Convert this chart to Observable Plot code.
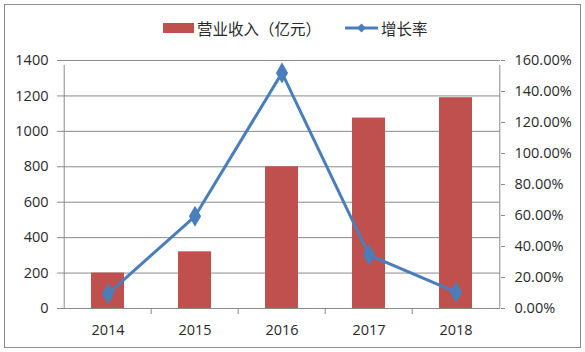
<!DOCTYPE html>
<html><head><meta charset="utf-8">
<script src="https://cdn.jsdelivr.net/npm/d3@7"></script>
<script src="https://cdn.jsdelivr.net/npm/@observablehq/plot@0.6"></script>
<style>
body{margin:0;background:#fff;}
#wrap{position:relative;width:585px;height:352px;overflow:hidden;font-family:"Open Sans",sans-serif;}
#border{position:absolute;left:4px;top:4px;width:575px;height:342px;border:1.5px solid #8c8c8c;box-sizing:content-box;}
#legend{position:absolute;top:16px;left:0;width:585px;height:24px;font-family:"Noto Sans CJK SC",sans-serif;font-size:15.5px;color:#2a2a2a;}
#legend .item{position:absolute;top:0;display:flex;align-items:center;height:24px;}
#chart{position:absolute;left:0;top:0;}
</style></head>
<body>
<div id="wrap">
  <div id="chart"></div>
  <div id="border"></div>
  <div id="legend"></div>
</div>
<script>
const years = ["2014", "2015", "2016", "2017", "2018"];
const revenue = [200, 320, 800, 1075, 1190];
const growth = [0.095, 0.595, 1.52, 0.345, 0.105];
const leftTicks = [0, 200, 400, 600, 800, 1000, 1200, 1400];
const rightTicks = [0, 0.2, 0.4, 0.6, 0.8, 1.0, 1.2, 1.4, 1.6];
const seriesNames = ["营业收入（亿元）", "增长率"];

const barColor = "#C0504D";
const lineColor = "#4A7EBB";
const W = 585, H = 352, mL = 62, mR = 85, mT = 60, mB = 44;
const yMax = 1400, gMax = 1.6;
const toY = g => g * yMax / gMax;
const step = (W - mL - mR) / years.length;

const rows = years.map((y, i) => ({year: y, rev: revenue[i], g: toY(growth[i])}));
const gridColor = "#8a8a8a";
const fs = 14.5;

const chart = Plot.plot({
  width: W, height: H,
  marginLeft: mL, marginRight: mR, marginTop: mT, marginBottom: mB,
  style: {fontFamily: "Open Sans, sans-serif", fontSize: fs + "px", color: "#2a2a2a", background: "transparent"},
  x: {domain: years, padding: 0, label: null},
  y: {domain: [0, yMax], label: null},
  marks: [
    Plot.gridY(leftTicks, {stroke: gridColor, strokeOpacity: 1, strokeWidth: 1}),
    Plot.barY(rows, {x: "year", y: "rev", fill: barColor, insetLeft: 27, insetRight: 27}),
    Plot.ruleY([0], {stroke: gridColor, strokeWidth: 1}),
    // left and right axis lines
    Plot.ruleX([years[0]], {x: d => d, dx: -step / 2, y1: 0, y2: yMax, insetBottom: -5, stroke: gridColor}),
    Plot.ruleX([years[years.length - 1]], {x: d => d, dx: step / 2, y1: 0, y2: yMax, insetBottom: -5, stroke: gridColor}),
    // category boundary ticks
    Plot.ruleX(years.slice(1), {x: d => d, dx: -step / 2, y1: 0, y2: 0, insetBottom: -6, stroke: gridColor}),
    Plot.lineY(rows, {x: "year", y: "g", stroke: lineColor, strokeWidth: 3}),
    Plot.dot(rows, {x: "year", y: "g", symbol: "diamond", r: 5.5, fill: lineColor, stroke: lineColor}),
    Plot.axisX({tickSize: 0, tickPadding: 16, fontSize: fs}),
    Plot.axisY({anchor: "left", ticks: leftTicks, tickSize: 5, tickPadding: 9, stroke: gridColor,
      tickFormat: d => String(d), fontSize: fs}),
    Plot.axisY({anchor: "right", ticks: rightTicks.map(toY), tickSize: 4, tickPadding: 10, stroke: gridColor,
      tickFormat: d => (d / yMax * gMax * 100).toFixed(2) + "%", fontSize: fs})
  ]
});
chart.querySelectorAll("text").forEach(t => t.setAttribute("fill", "#2a2a2a"));
document.getElementById("chart").appendChild(chart);

// legend
const legend = document.getElementById("legend");
const it1 = document.createElement("div");
it1.className = "item"; it1.style.left = "163px";
it1.innerHTML = `<svg width="31" height="12" style="margin-right:3px"><rect x="0" y="1" width="31" height="10" fill="${barColor}"/></svg><span>${seriesNames[0]}</span>`;
const it2 = document.createElement("div");
it2.className = "item"; it2.style.left = "345px";
it2.innerHTML = `<svg width="33" height="12" style="margin-right:3px"><line x1="0" y1="6" x2="33" y2="6" stroke="${lineColor}" stroke-width="3"/><path d="M16.5,1.5 L21,6 L16.5,10.5 L12,6Z" fill="${lineColor}"/></svg><span>${seriesNames[1]}</span>`;
legend.appendChild(it1); legend.appendChild(it2);
</script>
</body></html>
